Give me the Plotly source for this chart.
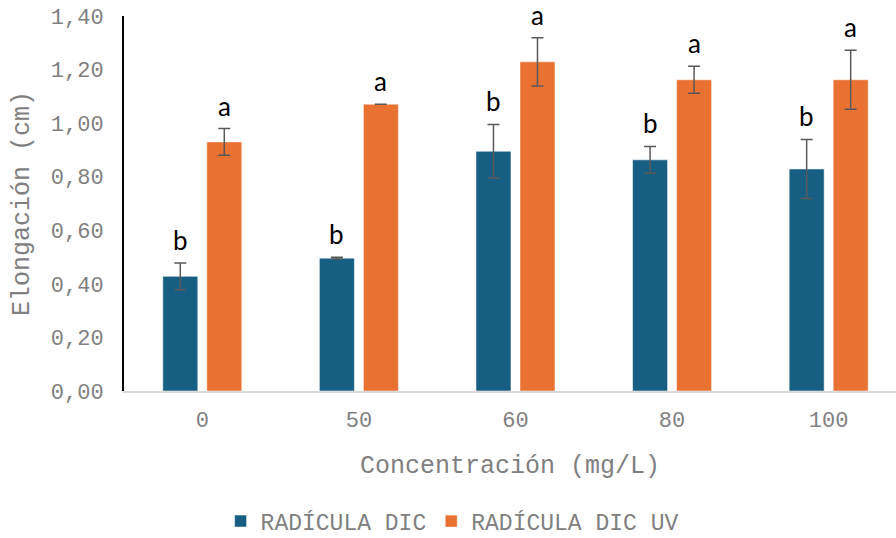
import plotly.graph_objects as go

categories = ["0", "50", "60", "80", "100"]
dic_values = [0.428, 0.496, 0.895, 0.863, 0.829]
dic_errors = [0.050, 0.003, 0.100, 0.050, 0.110]
dic_letters = ["b", "b", "b", "b", "b"]
uv_values = [0.930, 1.071, 1.229, 1.162, 1.162]
uv_errors = [0.050, 0.0, 0.090, 0.050, 0.110]
uv_letters = ["a", "a", "a", "a", "a"]
y_ticks = [0.0, 0.2, 0.4, 0.6, 0.8, 1.0, 1.2, 1.4]
y_tick_labels = ["0,00", "0,20", "0,40", "0,60", "0,80", "1,00", "1,20", "1,40"]

BLUE = "#175f82"
ORANGE = "#e97132"
GRAY = "#808080"
MONO = "Liberation Mono, Courier New, monospace"

fig = go.Figure()
fig.add_trace(go.Bar(
    name="RADÍCULA DIC", x=categories, y=dic_values,
    marker=dict(color=BLUE, line=dict(color="rgba(255,255,255,0.5)", width=1)),
    error_y=dict(type="data", array=dic_errors, visible=True, color="#595959", thickness=1.5, width=6),
))
fig.add_trace(go.Bar(
    name="RADÍCULA DIC UV", x=categories, y=uv_values,
    marker=dict(color=ORANGE, line=dict(color="rgba(255,255,255,0.5)", width=1)),
    error_y=dict(type="data", array=uv_errors, visible=True, color="#595959", thickness=1.5, width=6),
))

annotations = []
for i, c in enumerate(categories):
    for vals, errs, letters, shift in ((dic_values, dic_errors, dic_letters, -22),
                                       (uv_values, uv_errors, uv_letters, 22)):
        annotations.append(dict(
            x=i, y=vals[i] + errs[i], xref="x", yref="y", text=letters[i],
            showarrow=False, xshift=shift, yshift=23, yanchor="middle",
            font=dict(family="Lato, Open Sans, sans-serif", size=26, color="#000000"),
        ))

fig.update_layout(
    width=896, height=538,
    margin=dict(l=124, r=0, t=16, b=147, autoexpand=False),
    paper_bgcolor="white", plot_bgcolor="white",
    barmode="group", bargap=0.438, bargroupgap=0.2045,
    showlegend=True,
    legend=dict(orientation="h", x=0.425, xanchor="center", y=-0.347, yanchor="middle",
                font=dict(family=MONO, size=23, color=GRAY), traceorder="normal"),
    annotations=annotations,
    xaxis=dict(
        type="category", range=[-0.5, 4.43], automargin=False,
        showline=True, linecolor="#d9d9d9", linewidth=2,
        showgrid=False, ticks="", ticklabelstandoff=8,
        tickfont=dict(family=MONO, size=22, color=GRAY),
        title=dict(text="Concentración (mg/L)", standoff=22,
                   font=dict(family=MONO, size=25, color=GRAY)),
    ),
    yaxis=dict(
        range=[0, 1.4], tickvals=y_ticks, ticktext=y_tick_labels, automargin=False,
        showline=True, linecolor="#000000", linewidth=2,
        showgrid=False, zeroline=False, ticks="", ticklabelstandoff=14,
        tickfont=dict(family=MONO, size=22, color=GRAY),
        title=dict(text="Elongación (cm)", standoff=14,
                   font=dict(family=MONO, size=25, color=GRAY)),
    ),
)

fig.write_html("out.html", config={"displayModeBar": False},
               post_script="document.body.style.margin='0';")
